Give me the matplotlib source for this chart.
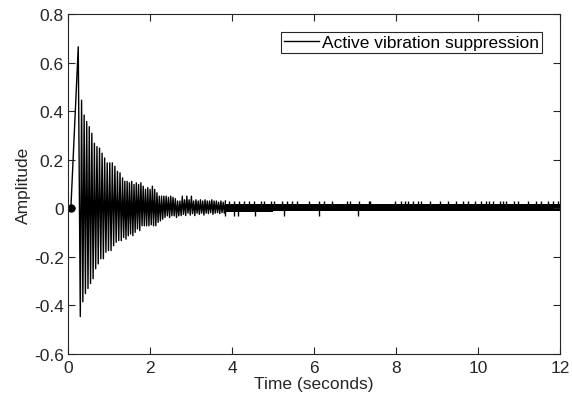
import matplotlib.pyplot as plt
import numpy as np

plt.rcParams['font.family'] = ['Liberation Sans', 'DejaVu Sans']

# start of the response: time (s), amplitude
rise_t = [0.0, 0.07, 0.22, 0.25]
rise_y = [0.0, 0.0, 0.55, 0.665]

# oscillation peaks (negative / positive, alternating)
neg_peaks = [-0.446, -0.385, -0.351, -0.33, -0.31, -0.29, -0.249, -0.229, -0.208, -0.208,
             -0.181, -0.174, -0.174, -0.154, -0.14, -0.133, -0.133,
             -0.12, -0.127, -0.113, -0.106, -0.113, -0.099, -0.085, -0.092, -0.072,
             -0.072, -0.072, -0.072, -0.068, -0.072, -0.072, -0.058, -0.052, -0.045, -0.038,
             -0.031, -0.038, -0.031, -0.031, -0.038, -0.031,
             -0.03, -0.025, -0.03, -0.02, -0.028, -0.022, -0.03, -0.02, -0.025, -0.02,
             -0.028, -0.02, -0.022, -0.018, -0.025, -0.02, -0.018, -0.022, -0.018, -0.02]
pos_peaks = [0.445, 0.384, 0.357, 0.336, 0.309, 0.268, 0.254, 0.248, 0.227, 0.207,
             0.187, 0.187, 0.187, 0.173, 0.152, 0.146,
             0.125, 0.111, 0.111, 0.105, 0.111, 0.098, 0.105, 0.098, 0.105, 0.091,
             0.078, 0.085, 0.078, 0.091, 0.078, 0.064, 0.05, 0.05, 0.05, 0.05,
             0.045, 0.05, 0.045, 0.04, 0.03, 0.03,
             0.05, 0.035, 0.05, 0.035, 0.05, 0.03, 0.035, 0.03, 0.035, 0.03,
             0.035, 0.03, 0.03, 0.035, 0.03, 0.03, 0.025, 0.03, 0.025, 0.03]
# time spans of the peaks (spacing changes a little along the record)
spans = [(0.30, 1.30, 33), (1.33, 2.73, 51), (2.76, 3.84, 40)]

# residual band after the oscillation dies out
band_t = [3.84, 5.0, 12.0]
band_hi = [0.019, 0.016, 0.016]
band_lo = [-0.014, -0.013, -0.013]

spike_up_t = [3.93, 4.05, 4.17, 4.29, 4.41, 4.53, 4.70, 4.78, 4.94, 5.02, 5.22, 5.35,
              5.47, 5.59, 5.87, 6.11, 6.24, 6.44, 6.81, 6.89, 7.09, 7.33, 7.36, 7.97,
              8.13, 8.22, 8.30, 8.42, 8.54, 8.62, 8.82, 9.07, 9.27, 9.47, 9.64, 9.76,
              9.92, 10.08, 10.20, 10.28, 10.36, 10.53, 10.61, 10.69, 10.89, 10.97,
              11.22, 11.42, 11.54, 11.70, 11.82, 11.95]
spike_dn_t = [3.84, 4.04, 4.14, 4.55, 5.26, 6.13, 7.08]
spike_up_y = 0.03
spike_dn_y = -0.03

seq = []
for n, p in zip(neg_peaks, pos_peaks):
    seq += [n, p]
t_osc = np.concatenate([np.linspace(a, b, k) for a, b, k in spans])
t = np.concatenate([rise_t, t_osc])
y = np.concatenate([rise_y, seq])

fig = plt.figure(figsize=(5.72, 4.02), dpi=100)
ax = fig.add_axes([68/572, (402-355)/402, (560-68)/572, (355-15)/402])

ax.plot(t, y, color='k', lw=1.0, label='Active vibration suppression')
ax.plot(rise_t[1], rise_y[1], 'ko', ms=5)
ax.fill_between(band_t, band_lo, band_hi, step='post', color='k', lw=0)
ax.vlines(spike_up_t, 0, spike_up_y, colors='k', lw=1.0)
ax.vlines(spike_dn_t, spike_dn_y, 0, colors='k', lw=1.0)

ax.set_xlim(0, 12)
ax.set_ylim(-0.6, 0.8)
ax.set_xticks(range(0, 13, 2))
yt = [-0.6, -0.4, -0.2, 0, 0.2, 0.4, 0.6, 0.8]
ax.set_yticks(yt)
ax.set_yticklabels(['-0.6', '-0.4', '-0.2', '0', '0.2', '0.4', '0.6', '0.8'])

axc = '#262626'
fs = 12.5
ax.tick_params(direction='in', top=True, right=True, length=5, width=0.8,
               colors=axc, labelsize=fs, labelcolor=axc)
ax.tick_params(axis='x', pad=4)
ax.tick_params(axis='y', pad=3)
for s in ax.spines.values():
    s.set_color(axc)
    s.set_linewidth(0.8)

ax.set_xlabel('Time (seconds)', fontsize=fs, color=axc, labelpad=1)
ax.set_ylabel('Amplitude', fontsize=fs, color=axc, labelpad=2)

leg = ax.legend(loc='upper right', fontsize=fs, handlelength=2.0, handletextpad=0.2,
                borderpad=0.15, borderaxespad=1.05, fancybox=False, framealpha=1)
leg.get_frame().set_edgecolor(axc)
leg.get_frame().set_linewidth(0.8)

fig.savefig('out.png', dpi=100)
